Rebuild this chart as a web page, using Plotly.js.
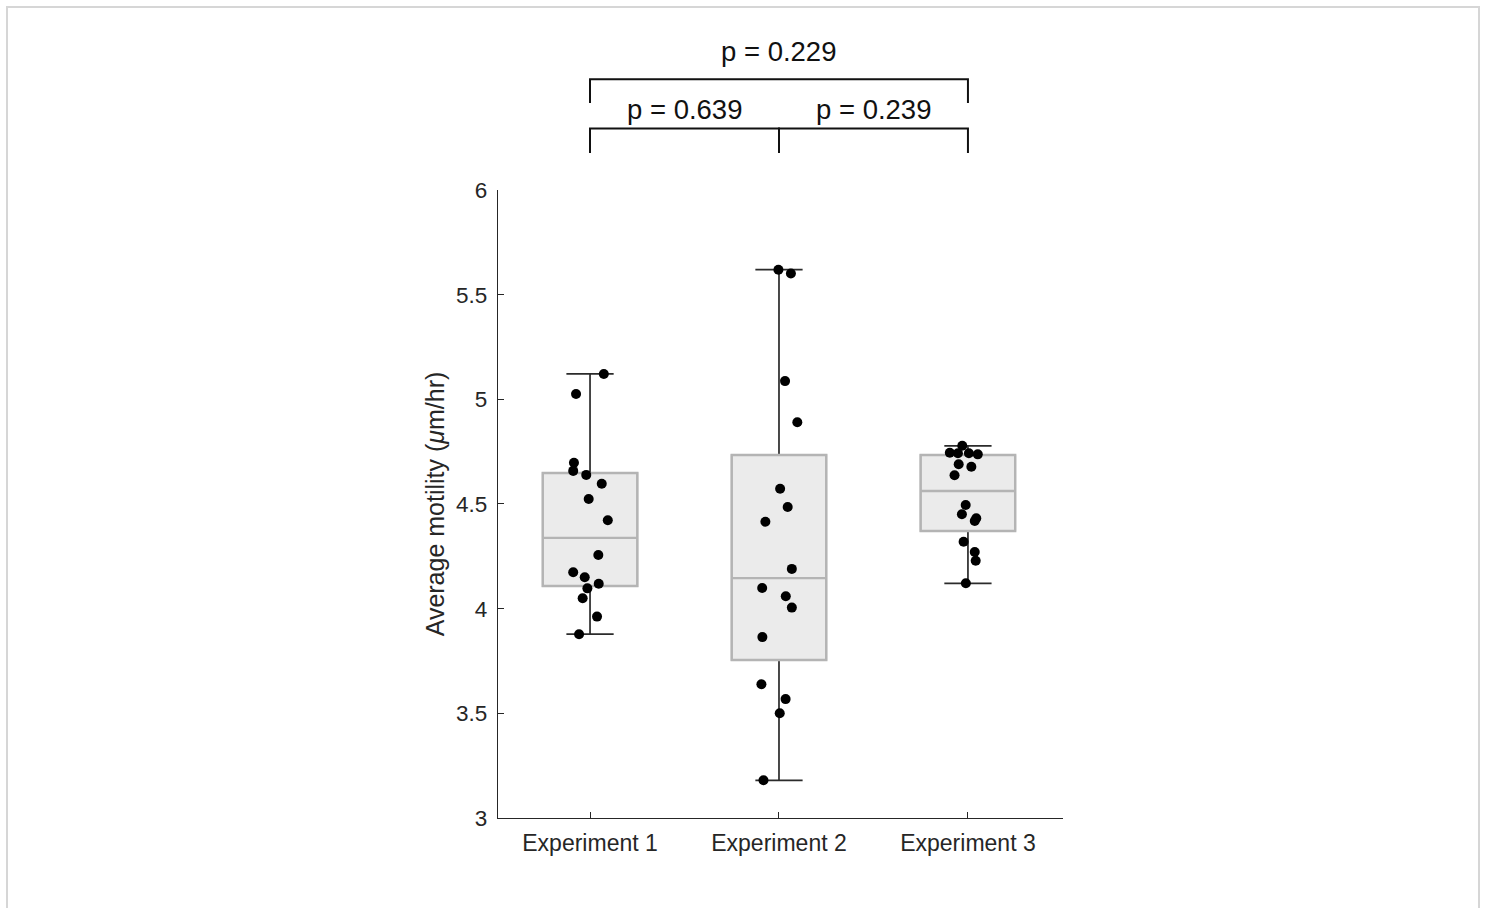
<!DOCTYPE html>
<html>
<head>
<meta charset="utf-8">
<script src="https://cdn.plot.ly/plotly-3.0.1.min.js"></script>
<style>
  html, body { margin: 0; padding: 0; background: #fff; }
  #wrap { position: relative; width: 1488px; height: 908px; overflow: hidden; }
  #chart { position: absolute; left: 0; top: 0; width: 1488px; height: 908px; }
  #frame { position: absolute; left: 6px; top: 6px; width: 1474px; height: 930px;
           border: 2px solid #d6d6d6; pointer-events: none; box-sizing: border-box; }
</style>
</head>
<body>
<div id="wrap"><div id="chart"></div><div id="frame"></div></div>
<script>
// ---------------- data ----------------
const categories = ["Experiment 1", "Experiment 2", "Experiment 3"];
const catPos = [1, 2, 3];

// individual measurements (µm/hr)
const exp1Values = [5.121, 5.025, 4.697, 4.658, 4.639, 4.597, 4.524, 4.422, 4.256, 4.174, 4.150, 4.119, 4.097, 4.050, 3.962, 3.878];
const exp1Jitter = [0.073, -0.074, -0.085, -0.089, -0.020, 0.062, -0.007, 0.094, 0.044, -0.089, -0.028, 0.046, -0.014, -0.039, 0.037, -0.058];

const exp2Values = [5.619, 5.601, 5.087, 4.890, 4.573, 4.486, 4.415, 4.190, 4.099, 4.059, 4.005, 3.864, 3.639, 3.568, 3.500, 3.180];
const exp2Jitter = [-0.003, 0.063, 0.032, 0.097, 0.006, 0.046, -0.072, 0.068, -0.089, 0.036, 0.068, -0.088, -0.093, 0.035, 0.004, -0.082];

const exp3Values = [4.778, 4.745, 4.742, 4.742, 4.737, 4.690, 4.678, 4.637, 4.495, 4.451, 4.432, 4.419, 4.320, 4.271, 4.229, 4.121];
const exp3Jitter = [-0.030, -0.096, -0.053, 0.005, 0.052, -0.049, 0.018, -0.071, -0.012, -0.032, 0.044, 0.036, -0.023, 0.036, 0.041, -0.011];

// box statistics
const q1Vals     = [4.108, 3.755, 4.371];
const medianVals = [4.338, 4.146, 4.562];
const q3Vals     = [4.648, 4.734, 4.734];
const lowerVals  = [3.878, 3.180, 4.121];
const upperVals  = [5.121, 5.619, 4.778];

// y ticks
const yTickVals = [3, 3.5, 4, 4.5, 5, 5.5, 6];
const yTickText = ["3", "3.5", "4", "4.5", "5", "5.5", "6"];

// significance brackets
const bracketFrom  = [1, 1, 2];
const bracketTo    = [3, 2, 3];
const bracketLevel = [0.675, 0.2625, 0.2625];   // height of horizontal bar (bracket panel units)
const bracketFoot  = [0.475, 0.058, 0.058];     // bottom of the legs
const bracketText  = ["p = 0.229", "p = 0.639", "p = 0.239"];
const bracketTextY = [0.905, 0.42, 0.42];

// ---------------- build ----------------
const FONT = "Liberation Sans, Arial, Helvetica, sans-serif";
const TXT = "#262626";

const traces = [];

// dark whiskers (underneath)
traces.push({
  type: "box", x: catPos, q1: q1Vals, median: medianVals, q3: q3Vals,
  lowerfence: lowerVals, upperfence: upperVals,
  width: 0.5, whiskerwidth: 0.5, boxpoints: false,
  line: { color: "#2b2b2b", width: 1.7 }, fillcolor: "rgba(0,0,0,0)",
  hoverinfo: "skip", xaxis: "x", yaxis: "y"
});
// grey box on top
traces.push({
  type: "box", x: catPos, q1: q1Vals, median: medianVals, q3: q3Vals,
  lowerfence: q1Vals, upperfence: q3Vals,
  width: 0.5, whiskerwidth: 0, boxpoints: false,
  line: { color: "#b4b4b4", width: 2.4 }, fillcolor: "#ebebeb",
  hoverinfo: "skip", xaxis: "x", yaxis: "y"
});

const groups = [[exp1Values, exp1Jitter], [exp2Values, exp2Jitter], [exp3Values, exp3Jitter]];
groups.forEach((g, i) => {
  traces.push({
    type: "scatter", mode: "markers",
    x: g[1].map(j => catPos[i] + j), y: g[0],
    marker: { color: "#000", size: 10 },
    hoverinfo: "skip", xaxis: "x", yaxis: "y", cliponaxis: false
  });
});

const annotations = [];
for (let k = 0; k < bracketFrom.length; k++) {
  const a = bracketFrom[k], b = bracketTo[k];
  traces.push({
    type: "scatter", mode: "lines",
    x: [a, a, b, b], y: [bracketFoot[k], bracketLevel[k], bracketLevel[k], bracketFoot[k]],
    line: { color: "#111", width: 2 }, hoverinfo: "skip",
    xaxis: "x", yaxis: "y2", cliponaxis: false
  });
  annotations.push({
    xref: "x", yref: "y2", x: (a + b) / 2, y: bracketTextY[k],
    text: bracketText[k], showarrow: false, xanchor: "center", yanchor: "middle",
    font: { family: FONT, size: 27.5, color: "#111" }
  });
}

const layout = {
  width: 1488, height: 908,
  margin: { l: 498, r: 425, t: 30, b: 90 },
  paper_bgcolor: "#fff", plot_bgcolor: "rgba(0,0,0,0)",
  showlegend: false, boxmode: "overlay",
  font: { family: FONT, color: TXT },
  xaxis: {
    range: [0.513, 3.503], tickvals: catPos, ticktext: categories,
    ticks: "inside", ticklen: 6, tickcolor: TXT, tickwidth: 1,
    showline: true, linecolor: TXT, linewidth: 1.2,
    showgrid: false, zeroline: false, anchor: "y",
    tickfont: { family: FONT, size: 23, color: TXT }, ticklabelstandoff: 4
  },
  yaxis: {
    domain: [0, 0.797], range: [3, 6], tickvals: yTickVals, ticktext: yTickText,
    ticks: "inside", ticklen: 6, tickcolor: TXT, tickwidth: 1,
    showline: true, linecolor: TXT, linewidth: 1.2,
    showgrid: false, zeroline: false, anchor: "x",
    tickfont: { family: FONT, size: 22.5, color: TXT }, ticklabelstandoff: 5,
    title: { text: "Average motility (<i>μ</i>m/hr)", font: { family: FONT, size: 25, color: TXT }, standoff: 4 }
  },
  yaxis2: {
    domain: [0.835, 0.987], range: [0, 1], visible: false, anchor: "x",
    showgrid: false, zeroline: false
  },
  annotations: annotations
};

Plotly.newPlot("chart", traces, layout, { staticPlot: true, displayModeBar: false });
</script>
</body>
</html>
